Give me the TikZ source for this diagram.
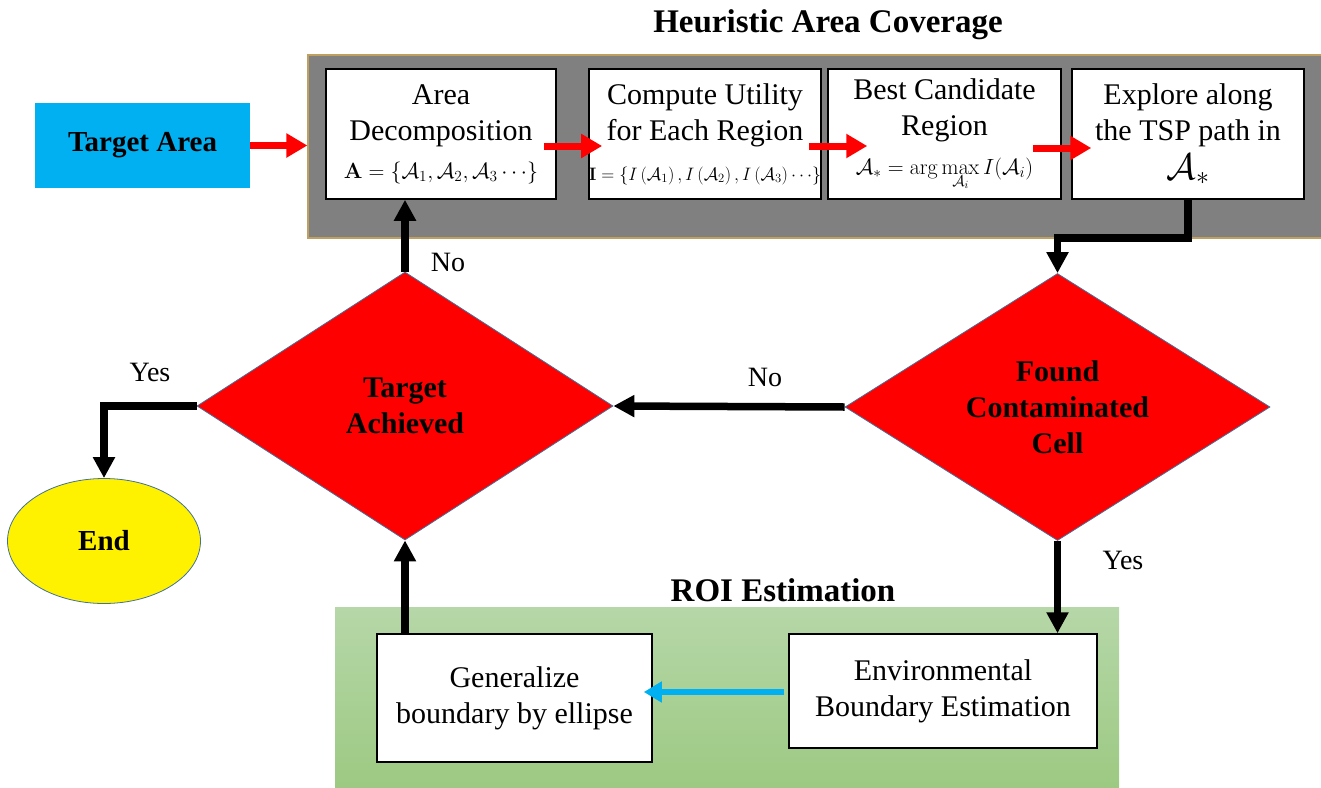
\RequirePackage{fix-cm}
\documentclass[tikz,border=0pt]{standalone}
\usepackage[no-math]{fontspec}
\setmainfont{Liberation Serif}
\usetikzlibrary{shapes.geometric,arrows.meta,calc}
\definecolor{tacyan}{RGB}{0,176,240}
\definecolor{grayfill}{RGB}{128,128,128}
\definecolor{tanline}{RGB}{191,160,96}
\definecolor{dborder}{RGB}{65,113,156}
\definecolor{greentop}{RGB}{182,215,168}
\definecolor{greenbot}{RGB}{156,201,130}
\tikzset{
 txt/.style={font=\fontsize{30}{36}\selectfont},
 procbox/.style={draw=black, line width=1.5pt, fill=white, align=center, inner sep=0pt, txt},
 decision/.style={diamond, aspect=1.6, draw=dborder, line width=0.8pt, fill=red, inner sep=0pt, align=center, font=\bfseries\fontsize{30}{36}\selectfont},
 redarrow/.style={draw=red, line width=7pt, -{Triangle[length=21pt,width=23pt]}},
 blkarrow/.style={draw=black, line width=7.5pt, -{Triangle[length=21pt,width=21pt]}},
 bluearrow/.style={draw=tacyan, line width=6pt, -{Triangle[length=18pt,width=20pt]}},
 lbl/.style={font=\fontsize{28}{34}\selectfont},
 sectitle/.style={font=\bfseries\fontsize{33}{40}\selectfont},
}
\begin{document}
\begin{tikzpicture}[x=1pt,y=-1pt]
\useasboundingbox (0,0) rectangle (1321,787);
% Heuristic Area Coverage
\node[sectitle] (t1) at (828,25) {Heuristic Area Coverage};
\node[draw=tanline, line width=1.2pt, fill=grayfill, minimum width=1016pt, minimum height=183pt, inner sep=0pt] (hac) at (816,146.5) {};
\node[fill=tacyan, minimum width=215pt, minimum height=85pt, inner sep=0pt, font=\bfseries\fontsize{29}{35}\selectfont] (ta) at (142.5,145.5) {Target Area};
\node[procbox, minimum width=230pt, minimum height=130pt] (ad) at (441,134)
  {Area\\Decomposition\\[2pt]{\fontsize{22}{26}\selectfont$\mathbf{A}=\{\mathcal{A}_1,\mathcal{A}_2,\mathcal{A}_3\cdots\}$}};
\node[procbox, minimum width=232pt, minimum height=130pt] (cu) at (705,134)
  {Compute Utility\\for Each Region\\[4pt]{\fontsize{18}{22}\selectfont$\mathbf{I}=\left\{I\left(\mathcal{A}_1\right),I\left(\mathcal{A}_2\right),I\left(\mathcal{A}_3\right)\cdots\right\}$}};
\node[procbox, minimum width=233pt, minimum height=130pt] (bc) at (944.5,134)
  {Best Candidate\\Region\\[3pt]{\fontsize{22}{26}\selectfont$\displaystyle\mathcal{A}_*=\arg\max_{\mathcal{A}_i}I(\mathcal{A}_i)$}};
\node[procbox, minimum width=232pt, minimum height=130pt] (ex) at (1188,134)
  {Explore along\\the TSP path in\\[3pt]{\fontsize{37}{38}\selectfont$\mathcal{A}_*$}};
\draw[redarrow] (ta.east) -- (ta.east -| hac.west);
\draw[redarrow] ($(ad.east)+(-13,12)$) -- ($(cu.west)+(14,12)$);
\draw[redarrow] ($(cu.east)+(-13,12)$) -- ($(bc.west)+(40,12)$);
\draw[redarrow] ($(bc.east)+(-29,14)$) -- ($(ex.west)+(20,14)$);
% decisions
\node[decision, minimum width=416pt, minimum height=268pt] (tach) at (405,406) {Target\\Achieved};
\node[decision, minimum width=425pt, minimum height=267pt] (fcc) at (1057.5,407) {Found\\Contaminated\\Cell};
\node[ellipse, draw=dborder, line width=0.8pt, fill=yellow, minimum width=193pt, minimum height=125pt, inner sep=0pt, font=\bfseries\fontsize{29}{35}\selectfont] (end) at (104,541) {End};
% ROI Estimation
\node[minimum width=784pt, minimum height=182pt, top color=greentop, bottom color=greenbot, draw=none, inner sep=0pt] (roi) at (727,698) {};
\node[sectitle] (t2) at (783,590) {ROI Estimation};
\node[procbox, minimum width=275pt, minimum height=128pt] (gen) at (514.5,698) {Generalize\\boundary by ellipse};
\node[procbox, minimum width=308pt, minimum height=114pt] (env) at (943,691) {Environmental\\Boundary Estimation};
% connectors
\draw[blkarrow] (tach.north) -- (tach.north |- ad.south);
\draw[blkarrow] (ex.south) -- ++(0,38) -| (fcc.north);
\draw[blkarrow] (fcc.west) -- (tach.east);
\draw[blkarrow] (tach.west) -| (end.north);
\draw[blkarrow] (fcc.south) -- (fcc.south |- env.north);
\draw[blkarrow] (tach.south |- gen.north) -- (tach.south);
\draw[bluearrow] ($(env.west)+(-4,1)$) -- ($(env.west -| gen.east)+(-9,1)$);
% labels
\node[lbl] (no1) at (448,262) {No};
\node[lbl] (no2) at (765,377) {No};
\node[lbl] (yes1) at (150,372) {Yes};
\node[lbl] (yes2) at (1123,560) {Yes};
\end{tikzpicture}
\end{document}
